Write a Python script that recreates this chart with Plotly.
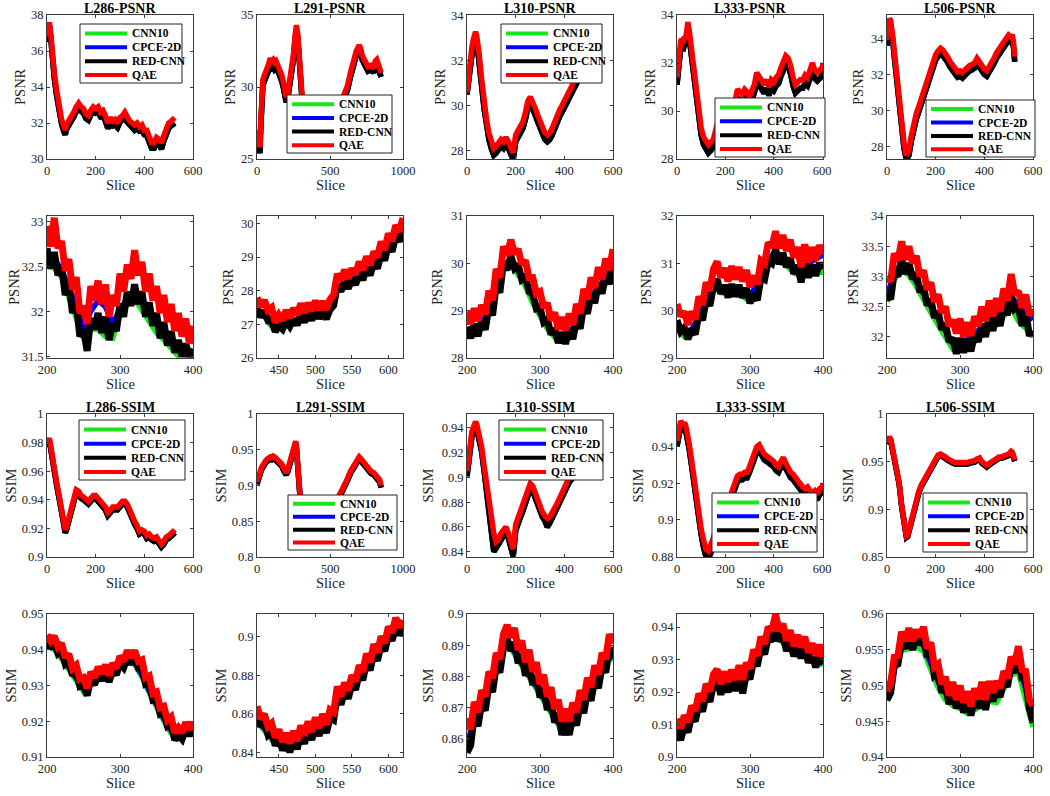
import plotly.graph_objects as go

# ---------------- data: overview panels (rows 1 and 3) ----------------
psnr_l286_x = [0, 5, 10, 15, 20, 30, 40, 50, 60, 70, 75, *range(80, 521, 10), 525]
psnr_l286_qae = [36.8, 37.3, 37.6, 37.0, 36.0, 34.8, 33.8, 32.9, 32.2, 31.8, 31.6, 31.9, 32.1, 32.4, 32.6, 32.9,
                 33.1, 32.9, 32.8, 32.5, 32.4, 32.7, 32.9, 32.8, 32.9, 32.6, 32.7, 32.4, 32.0, 32.3, 32.1, 32.2,
                 32.0, 32.3, 32.4, 32.6, 32.3, 32.1, 32.0, 31.9, 32.0, 31.8, 31.9, 31.6, 31.6, 31.2, 30.9, 30.9,
                 31.2, 31.1, 30.9, 31.3, 31.7, 32.0, 32.1, 32.2, 32.3]
psnr_l286_redcnn = [36.5, 37.0, 37.4, 36.8, 35.7, 34.5, 33.5, 32.65, 31.95, 31.5, 31.35, 31.65, 31.85, 32.15, 32.35,
                    32.65, 32.85, 32.65, 32.55, 32.25, 32.15, 32.45, 32.65, 32.55, 32.6, 32.35, 32.4, 32.1, 31.7,
                    32.0, 31.85, 31.9, 31.75, 32.05, 32.15, 32.3, 32.05, 31.85, 31.75, 31.6, 31.7, 31.55, 31.6,
                    31.35, 31.3, 30.95, 30.6, 30.6, 30.9, 30.85, 30.55, 31.0, 31.4, 31.7, 31.85, 31.95, 32.0]

psnr_l291_x = [0, 5, 10, 15, 20, 25, 30, *range(40, 321, 10), 340, 360, 380, 400, 420, 445, 470, 500, 520,
               530, 550, 570, 590, 600, 610, 620, 640, 660, 680, 700, 710, 720, 740, 760, 780, 800, 810, 820,
               830, 840, 850]
psnr_l291_qae = [27.0, 26.2, 25.9, 26.5, 25.8, 27.5, 29.0,
                 30.5, 30.8, 31.0, 31.3, 31.6, 32.0, 31.8, 31.9, 31.7, 31.8, 31.6, 31.4, 31.0, 30.8, 30.4, 29.8,
                 29.3, 29.5, 30.1, 30.8, 31.5, 32.3, 33.5, 34.3, 33.6, 32.0, 30.2, 29.2, 28.6,
                 28.2, 28.0, 27.9, 27.8, 27.7, 27.2, 27.4, 27.6, 27.7,
                 28.4, 28.6, 28.9, 29.3, 29.6, 29.9, 30.1,
                 31.0, 31.8, 32.5, 32.9, 32.7, 32.2, 31.7, 31.4, 31.5, 31.3, 31.8, 31.9, 31.6, 31.2, 31.0]
psnr_l291_redcnn = [26.6, 25.8, 25.5, 26.0, 25.4, 27.0, 28.6,
                    30.1, 30.4, 30.6, 30.9, 31.1, 31.4, 31.3, 31.4, 31.2, 31.3, 31.2, 31.0, 30.6, 30.4, 30.0,
                    29.4, 28.95, 29.15, 29.75, 30.45, 31.15, 31.95, 33.15, 33.95, 33.3, 31.7, 29.9, 28.9, 28.3,
                    27.9, 27.7, 27.6, 27.5, 27.4, 26.9, 27.1, 27.3, 27.4,
                    28.1, 28.3, 28.6, 29.0, 29.3, 29.6, 29.8,
                    30.7, 31.5, 32.2, 32.6, 32.4, 31.9, 31.4, 31.1, 31.2, 31.0, 31.5, 31.6, 31.3, 30.9, 30.7]

psnr_l310_x = [*range(0, 51, 5), *range(60, 401, 10), 420, 440, 460, 480, 500, 520]
psnr_l310_qae = [30.6, 31.2, 31.8, 32.2, 32.6, 32.9, 33.2, 33.3, 33.1, 32.8, 32.3,
                 31.2, 30.2, 29.4, 28.8, 28.4, 28.1, 28.2, 28.4, 28.5, 28.4, 28.6, 28.4, 28.1, 27.9, 28.7,
                 28.9, 29.0, 29.3, 29.7, 30.2, 30.4, 30.2, 29.9, 29.6, 29.3, 29.0, 28.8, 28.7, 28.8, 29.0,
                 29.3, 29.6, 29.8, 30.0, 30.2,
                 30.6, 31.0, 31.5, 32.0, 32.3, 32.6]
psnr_l310_redcnn = [30.5, 31.0, 31.6, 32.0, 32.4, 32.7, 33.0, 33.1, 32.9, 32.5, 32.0,
                    30.9, 29.9, 29.1, 28.5, 28.1, 27.8, 27.9, 28.1, 28.2, 28.1, 28.3, 28.1, 27.8, 27.6, 28.4,
                    28.6, 28.7, 29.0, 29.4, 29.9, 30.1, 29.9, 29.6, 29.3, 29.0, 28.7, 28.5, 28.4, 28.5, 28.7,
                    29.0, 29.3, 29.5, 29.7, 29.9,
                    30.3, 30.7, 31.2, 31.7, 32.0, 32.3]

psnr_l333_x = [*range(0, 61, 5), *range(70, 181, 10), 200, 220, 240, *range(250, 601, 10), 605]
psnr_l333_qae = [31.4, 32.0, 32.6, 32.9, 33.0, 32.8, 33.1, 33.0, 33.3, 33.7, 33.4, 33.0, 32.5,
                 31.6, 30.7, 29.9, 29.3, 28.9, 28.7, 28.6, 28.7, 28.8, 29.2, 29.6, 29.6,
                 29.8, 30.0, 30.4,
                 30.9, 30.8, 30.7, 30.9, 30.8, 30.6, 30.8, 31.1, 31.6, 31.4, 31.3, 31.1, 31.3, 31.0, 31.3,
                 31.2, 31.4, 31.5, 31.8, 32.1, 32.3, 32.2, 31.9, 31.4, 31.1, 31.2, 31.3, 31.3, 31.5, 31.4,
                 31.7, 32.0, 31.7, 31.6, 31.7, 31.8,
                 32.0]
psnr_l333_redcnn = [31.1, 31.7, 32.3, 32.6, 32.7, 32.5, 32.8, 32.7, 33.0, 33.4, 33.1, 32.7, 32.2,
                    31.3, 30.4, 29.6, 29.0, 28.6, 28.35, 28.25, 28.35, 28.5, 28.9, 29.3, 29.3,
                    29.5, 29.7, 30.1,
                    30.55, 30.45, 30.35, 30.55, 30.45, 30.25, 30.45, 30.75, 31.25, 31.05, 30.95, 30.75,
                    30.95, 30.65, 30.95, 30.85, 31.05, 31.15, 31.45, 31.75, 31.95, 31.85, 31.55, 31.05,
                    30.75, 30.85, 30.95, 30.95, 31.15, 31.05, 31.35, 31.65, 31.35, 31.25, 31.35, 31.45,
                    31.65]

psnr_l506_x = [0, 5, 10, 15, 20, 25, 30, *range(40, 511, 10), 515, 520, 525]
psnr_l506_qae = [33.9, 34.6, 35.1, 35.0, 34.6, 34.0, 33.3,
                 32.0, 30.6, 29.3, 28.2, 27.5, 27.8, 28.6, 29.3, 29.8, 30.2, 30.6, 31.0, 31.5, 32.0, 32.4,
                 32.8, 33.1, 33.3, 33.45, 33.35, 33.2, 32.95, 32.7, 32.55, 32.35, 32.15, 32.2, 32.1, 32.25,
                 32.4, 32.5, 32.55, 32.65, 32.9, 32.65, 32.55, 32.3, 32.2, 32.4, 32.6, 32.9, 33.2, 33.4,
                 33.6, 33.8, 34.0, 34.2, 34.1,
                 34.2, 33.8, 33.0]
psnr_l506_redcnn = [33.6, 34.3, 34.8, 34.7, 34.3, 33.7, 33.0,
                    31.7, 30.3, 29.0, 27.9, 27.25, 27.5, 28.3, 29.0, 29.5, 29.9, 30.3, 30.7, 31.2, 31.7,
                    32.1, 32.5, 32.8, 33.0, 33.15, 33.05, 32.9, 32.65, 32.4, 32.25, 32.05, 31.85, 31.9,
                    31.8, 31.95, 32.1, 32.2, 32.25, 32.35, 32.6, 32.35, 32.25, 32.0, 31.9, 32.1, 32.3, 32.6,
                    32.9, 33.1, 33.3, 33.5, 33.7, 33.9, 33.8,
                    33.9, 33.5, 32.7]

ssim_l286_x = [0, 5, 10, 15, 20, 30, 40, 50, 60, 70, 75, *range(80, 521, 10), 525]
ssim_l286_qae = [0.979, 0.982, 0.983, 0.978, 0.972, 0.962, 0.952, 0.943, 0.932, 0.922, 0.919, 0.921, 0.927,
                 0.935, 0.942, 0.947, 0.946, 0.943, 0.942, 0.940, 0.939, 0.941, 0.943, 0.943, 0.941, 0.939,
                 0.937, 0.935, 0.931, 0.933, 0.935, 0.935, 0.935, 0.937, 0.939, 0.939, 0.937, 0.933, 0.928,
                 0.925, 0.922, 0.918, 0.919, 0.918, 0.915, 0.916, 0.914, 0.913, 0.914, 0.911, 0.909, 0.911,
                 0.914, 0.915, 0.916, 0.918, 0.919]
ssim_l286_redcnn = [0.977, 0.980, 0.981, 0.976, 0.970, 0.960, 0.950, 0.941, 0.930, 0.920, 0.917, 0.919,
                    0.925, 0.933, 0.940, 0.945, 0.944, 0.941, 0.940, 0.938, 0.937, 0.939, 0.941, 0.941,
                    0.939, 0.937, 0.935, 0.933, 0.929, 0.931, 0.933, 0.933, 0.933, 0.935, 0.937, 0.937,
                    0.935, 0.931, 0.926, 0.923, 0.920, 0.916, 0.917, 0.916, 0.913, 0.914, 0.912, 0.911,
                    0.912, 0.909, 0.907, 0.909, 0.912, 0.913, 0.914, 0.916, 0.917]

ssim_l291_x = [0, 5, 10, 15, 20, *range(30, 261, 10), 265, 270, 280, 290, 300, 320, 350, 400, 450, 500, 540,
               560, 580, 600, 620, 640, 660, 680, 700, 710, 720, 740, 760, 780, 800, 820, 840, 850]
ssim_l291_qae = [0.905, 0.91, 0.912, 0.915, 0.918,
                 0.925, 0.93, 0.932, 0.935, 0.937, 0.94, 0.94, 0.939, 0.941, 0.94, 0.938, 0.936, 0.934, 0.932,
                 0.93, 0.925, 0.92, 0.918, 0.922, 0.93, 0.935, 0.94, 0.948, 0.958,
                 0.962, 0.955, 0.935, 0.9, 0.87, 0.86, 0.855, 0.855, 0.85, 0.855, 0.865,
                 0.885, 0.893, 0.9, 0.91, 0.92, 0.928, 0.935, 0.94,
                 0.938, 0.935, 0.93, 0.925, 0.92, 0.918, 0.914, 0.908, 0.9]
ssim_l291_redcnn = [0.902, 0.907, 0.909, 0.912, 0.915,
                    0.922, 0.927, 0.929, 0.932, 0.934, 0.937, 0.937, 0.936, 0.938, 0.937, 0.935, 0.933, 0.931,
                    0.929, 0.927, 0.922, 0.917, 0.915, 0.919, 0.927, 0.932, 0.937, 0.945, 0.955,
                    0.959, 0.952, 0.932, 0.897, 0.867, 0.857, 0.852, 0.852, 0.847, 0.852, 0.862,
                    0.882, 0.89, 0.897, 0.907, 0.917, 0.925, 0.932, 0.937,
                    0.935, 0.932, 0.927, 0.922, 0.917, 0.915, 0.911, 0.905, 0.897]

ssim_l310_x = [*range(0, 41, 5), *range(50, 421, 10), 440, 460, 480, 500, 520]
ssim_l310_qae = [0.905, 0.915, 0.925, 0.932, 0.937, 0.94, 0.943, 0.945, 0.943,
                 0.935, 0.925, 0.91, 0.895, 0.88, 0.865, 0.855, 0.848, 0.85, 0.855, 0.857, 0.86, 0.855, 0.85,
                 0.842, 0.862, 0.868, 0.872, 0.877, 0.883, 0.89, 0.895, 0.893, 0.887, 0.882, 0.876, 0.872,
                 0.869, 0.867, 0.868, 0.871, 0.875, 0.879, 0.883, 0.887, 0.891, 0.895, 0.9,
                 0.905, 0.91, 0.915, 0.918, 0.92]
ssim_l310_redcnn = [0.901, 0.911, 0.921, 0.928, 0.933, 0.936, 0.939, 0.941, 0.939,
                    0.931, 0.921, 0.906, 0.891, 0.876, 0.861, 0.84, 0.843, 0.846, 0.851, 0.853, 0.856, 0.851,
                    0.845, 0.836, 0.857, 0.864, 0.868, 0.873, 0.879, 0.886, 0.891, 0.889, 0.883, 0.878, 0.872,
                    0.868, 0.865, 0.86, 0.863, 0.867, 0.871, 0.875, 0.879, 0.883, 0.887, 0.891, 0.896,
                    0.901, 0.906, 0.911, 0.914, 0.916]

ssim_l333_x = [*range(0, 51, 5), *range(60, 601, 10), 605]
ssim_l333_qae = [0.943, 0.948, 0.952, 0.954, 0.953, 0.951, 0.953, 0.952, 0.949, 0.946, 0.942,
                 0.933, 0.922, 0.912, 0.903, 0.895, 0.889, 0.884, 0.883, 0.886, 0.89, 0.895, 0.9, 0.905,
                 0.908, 0.91, 0.911, 0.913, 0.917, 0.92, 0.924, 0.925, 0.925, 0.926, 0.926, 0.929, 0.933,
                 0.936, 0.94, 0.941, 0.938, 0.936, 0.935, 0.934, 0.933, 0.932, 0.93, 0.929, 0.932, 0.934,
                 0.931, 0.928, 0.926, 0.925, 0.923, 0.921, 0.92, 0.918, 0.917, 0.918, 0.916, 0.915, 0.916,
                 0.914, 0.917, 0.918,
                 0.92]
ssim_l333_redcnn = [0.940, 0.945, 0.949, 0.951, 0.950, 0.948, 0.950, 0.949, 0.946, 0.943, 0.939,
                    0.930, 0.919, 0.909, 0.900, 0.892, 0.885, 0.880, 0.879, 0.882, 0.887, 0.892, 0.897,
                    0.902, 0.905, 0.907, 0.908, 0.910, 0.914, 0.917, 0.921, 0.922, 0.922, 0.923, 0.923,
                    0.926, 0.930, 0.933, 0.937, 0.938, 0.935, 0.933, 0.932, 0.931, 0.930, 0.929, 0.927,
                    0.926, 0.929, 0.931, 0.928, 0.925, 0.923, 0.922, 0.920, 0.918, 0.917, 0.915, 0.914,
                    0.915, 0.913, 0.912, 0.913, 0.911, 0.914, 0.915,
                    0.917]

ssim_l506_x = [0, 5, 10, 15, 20, 30, 40, 50, 60, 70, 75, 80, 85, 90, *range(100, 511, 10), 515, 520, 525]
ssim_l506_qae = [0.970, 0.974, 0.976, 0.974, 0.968, 0.958, 0.945, 0.928, 0.905, 0.885, 0.875, 0.872, 0.873,
                 0.878, 0.89, 0.902, 0.912, 0.918, 0.925, 0.93, 0.935, 0.94, 0.945, 0.95, 0.954, 0.957, 0.958,
                 0.957, 0.955, 0.953, 0.951, 0.95, 0.949, 0.949, 0.949, 0.948, 0.948, 0.949, 0.95, 0.95,
                 0.951, 0.953, 0.954, 0.95, 0.947, 0.946, 0.948, 0.95, 0.951, 0.953, 0.955, 0.955, 0.956,
                 0.957, 0.958, 0.961, 0.96, 0.956, 0.952]
ssim_l506_redcnn = [0.9685, 0.9725, 0.9745, 0.9725, 0.9665, 0.9565, 0.9435, 0.9265, 0.9035, 0.8835, 0.8735,
                    0.8705, 0.8715, 0.8765, 0.8885, 0.9005, 0.9105, 0.9165, 0.9235, 0.9285, 0.9335, 0.9385,
                    0.9435, 0.9485, 0.9525, 0.9555, 0.9565, 0.9555, 0.9535, 0.9515, 0.9495, 0.9485, 0.9475,
                    0.9475, 0.9475, 0.9465, 0.9465, 0.9475, 0.9485, 0.9485, 0.9495, 0.9515, 0.9525, 0.9485,
                    0.9455, 0.9445, 0.9465, 0.9485, 0.9495, 0.9515, 0.9535, 0.9535, 0.9545, 0.9555, 0.9565,
                    0.9595, 0.9585, 0.9545, 0.9505]

# ---------------- data: zoomed panels (rows 2 and 4) ----------------
slices_200_400 = list(range(200, 401, 5))
slices_200_400_coarse = list(range(200, 401, 10))
slices_420_620 = list(range(420, 621, 5))
slices_420_620_coarse = list(range(420, 621, 10))

zpsnr_l286_qae = [32.95, 32.72, 33.04, 32.70, 32.78, 32.45, 32.58, 32.24, 32.38, 31.98,
                  32.06, 31.86, 32.28, 32.12, 32.34, 32.08, 32.30, 31.94, 32.18, 32.06,
                  32.42, 32.22, 32.52, 32.36, 32.68, 32.40, 32.55, 32.22, 32.42, 32.12,
                  32.28, 31.98, 32.18, 31.88, 32.08, 31.78, 31.98, 31.72, 31.92, 31.64,
                  31.84]
zpsnr_l286_redcnn = [32.70, 32.48, 32.66, 32.40, 32.50, 32.18, 32.30, 31.98, 32.10, 31.72,
                     31.80, 31.56, 31.92, 31.80, 31.98, 31.76, 31.94, 31.68, 31.86, 31.78,
                     32.08, 31.94, 32.22, 32.06, 32.30, 32.08, 32.22, 31.94, 32.10, 31.84,
                     31.98, 31.70, 31.88, 31.62, 31.78, 31.54, 31.68, 31.50, 31.64, 31.50,
                     31.58]
zpsnr_l286_cpce = [32.6, 32.58, 32.46, 32.26, 32.06, 31.8, 32.0, 32.12, 32.05, 31.86, 32.02,
                   32.14, 32.2, 32.1, 31.98, 31.86, 31.76, 31.68, 31.6, 31.58, 31.55]
zpsnr_l286_cnn10 = [32.5, 32.48, 32.38, 32.16, 31.96, 31.7, 31.8, 31.8, 31.72, 31.7, 31.95,
                    32.08, 32.14, 32.02, 31.9, 31.76, 31.68, 31.58, 31.5, 31.5, 31.48]

zpsnr_l291_qae = [27.80, 27.52, 27.72, 27.42, 27.50, 27.06, 27.28, 27.12, 27.42, 27.20,
                  27.48, 27.28, 27.62, 27.34, 27.64, 27.40, 27.70, 27.44, 27.68, 27.44,
                  27.74, 27.88, 28.50, 28.30, 28.62, 28.36, 28.66, 28.48, 28.86, 28.62,
                  29.02, 28.76, 29.16, 29.00, 29.46, 29.22, 29.70, 29.48, 29.94, 29.76,
                  30.16]
zpsnr_l291_redcnn = [27.48, 27.22, 27.40, 27.12, 27.16, 26.78, 26.96, 26.86, 27.10, 26.94,
                     27.16, 26.98, 27.30, 27.06, 27.34, 27.12, 27.40, 27.18, 27.38, 27.16,
                     27.44, 27.56, 28.16, 27.98, 28.30, 28.06, 28.36, 28.18, 28.52, 28.32,
                     28.70, 28.46, 28.84, 28.66, 29.12, 28.90, 29.38, 29.16, 29.62, 29.46,
                     29.86]
zpsnr_l291_cpce = [27.38, 27.29, 27.0, 26.94, 27.05, 27.1, 27.21, 27.26, 27.32, 27.3, 27.53,
                   28.1, 28.21, 28.3, 28.45, 28.61, 28.78, 29.04, 29.3, 29.57, 29.86]
zpsnr_l291_cnn10 = [27.32, 27.23, 26.94, 26.88, 26.99, 27.04, 27.15, 27.2, 27.26, 27.24, 27.47,
                    28.04, 28.15, 28.24, 28.39, 28.55, 28.72, 28.98, 29.24, 29.51, 29.82]

zpsnr_l310_qae = [28.98, 28.72, 29.05, 28.78, 29.12, 28.92, 29.42, 29.22, 29.88, 29.70,
                  30.36, 30.16, 30.50, 30.20, 30.30, 29.98, 30.06, 29.70, 29.70, 29.36,
                  29.40, 29.06, 29.16, 28.80, 28.96, 28.60, 28.86, 28.58, 28.94, 28.70,
                  29.14, 28.94, 29.46, 29.24, 29.70, 29.48, 29.92, 29.66, 30.10, 29.86,
                  30.30]
zpsnr_l310_redcnn = [28.66, 28.42, 28.72, 28.46, 28.78, 28.60, 29.08, 28.90, 29.54, 29.38,
                     30.02, 29.86, 30.16, 29.90, 29.98, 29.66, 29.72, 29.40, 29.36, 29.04,
                     29.06, 28.76, 28.82, 28.50, 28.62, 28.32, 28.54, 28.30, 28.60, 28.40,
                     28.80, 28.62, 29.12, 28.94, 29.36, 29.16, 29.58, 29.36, 29.76, 29.56,
                     29.98]
zpsnr_l310_cpce = [28.58, 28.62, 28.72, 29.02, 29.5, 29.98, 30.06, 29.86, 29.62, 29.3, 28.95,
                   28.7, 28.5, 28.45, 28.53, 28.74, 29.06, 29.3, 29.5, 29.7, 30.0]
zpsnr_l310_cnn10 = [28.5, 28.56, 28.66, 28.96, 29.42, 29.9, 30.0, 29.78, 29.52, 29.16, 28.88,
                    28.62, 28.44, 28.38, 28.46, 28.68, 29.0, 29.22, 29.44, 29.62, 29.94]

zpsnr_l333_qae = [30.14, 29.88, 29.98, 29.70, 29.98, 29.82, 30.30, 30.12, 30.60, 30.42,
                  30.88, 31.04, 30.70, 30.90, 30.62, 30.94, 30.66, 30.92, 30.62, 30.86,
                  30.50, 30.74, 30.56, 31.06, 31.00, 31.44, 31.34, 31.68, 31.32, 31.60,
                  31.26, 31.50, 31.12, 31.34, 30.92, 31.40, 31.02, 31.34, 31.06, 31.38,
                  31.20]
zpsnr_l333_redcnn = [29.80, 29.56, 29.64, 29.40, 29.62, 29.50, 29.94, 29.80, 30.24, 30.10,
                     30.52, 30.66, 30.36, 30.54, 30.28, 30.56, 30.30, 30.54, 30.28, 30.48,
                     30.16, 30.36, 30.22, 30.70, 30.66, 31.06, 31.00, 31.30, 30.98, 31.22,
                     30.92, 31.12, 30.78, 30.96, 30.60, 31.02, 30.70, 30.96, 30.74, 31.00,
                     30.88]
zpsnr_l333_cpce = [29.7, 29.54, 29.58, 29.9, 30.2, 30.6, 30.48, 30.44, 30.44, 30.4, 30.3,
                   30.58, 30.88, 31.16, 31.12, 31.04, 30.9, 30.86, 31.0, 31.1, 31.18]
zpsnr_l333_cnn10 = [29.6, 29.45, 29.5, 29.8, 30.1, 30.5, 30.38, 30.36, 30.35, 30.3, 30.2,
                    30.4, 30.8, 31.08, 31.04, 30.96, 30.8, 30.74, 30.76, 30.8, 30.82]

zpsnr_l506_qae = [32.98, 32.92, 33.38, 33.26, 33.58, 33.28, 33.50, 33.22, 33.34, 33.00,
                  33.10, 32.78, 32.90, 32.58, 32.70, 32.40, 32.50, 32.18, 32.28, 32.06,
                  32.30, 32.00, 32.24, 32.02, 32.34, 32.18, 32.50, 32.26, 32.60, 32.34,
                  32.64, 32.42, 32.80, 32.60, 33.04, 32.70, 32.76, 32.48, 32.70, 32.36,
                  32.46]
zpsnr_l506_redcnn = [32.70, 32.62, 33.08, 33.00, 33.30, 33.04, 33.22, 32.96, 33.06, 32.74,
                     32.84, 32.52, 32.62, 32.32, 32.42, 32.12, 32.22, 31.92, 31.98, 31.72,
                     31.98, 31.74, 31.96, 31.76, 32.06, 31.92, 32.22, 32.00, 32.32, 32.10,
                     32.38, 32.18, 32.52, 32.36, 32.70, 32.46, 32.50, 32.18, 32.42, 32.02,
                     32.10]
zpsnr_l506_cpce = [32.68, 33.06, 33.2, 33.1, 32.92, 32.7, 32.5, 32.3, 32.1, 31.9, 31.92,
                   31.95, 32.06, 32.14, 32.24, 32.32, 32.5, 32.66, 32.52, 32.42, 32.28]
zpsnr_l506_cnn10 = [32.58, 32.96, 33.1, 33.02, 32.84, 32.6, 32.4, 32.2, 32.0, 31.8, 31.8,
                    31.8, 31.92, 32.04, 32.14, 32.2, 32.36, 32.5, 32.26, 32.14, 32.02]

zssim_l286_qae = [0.9442, 0.9424, 0.9438, 0.9408, 0.9418, 0.9378, 0.9388, 0.9348, 0.9357, 0.9318,
                  0.9322, 0.9293, 0.9338, 0.9322, 0.9352, 0.9333, 0.9358, 0.9328, 0.9362, 0.9348,
                  0.9382, 0.9368, 0.9398, 0.9378, 0.9398, 0.9368, 0.9372, 0.9322, 0.9327, 0.9278,
                  0.9282, 0.9238, 0.9242, 0.9203, 0.9212, 0.9168, 0.9182, 0.9168, 0.9197, 0.9178,
                  0.9198]
zssim_l286_redcnn = [0.9424, 0.9404, 0.9420, 0.9390, 0.9398, 0.9360, 0.9368, 0.9328, 0.9338, 0.9298,
                     0.9302, 0.9272, 0.9318, 0.9302, 0.9332, 0.9314, 0.9338, 0.9310, 0.9342, 0.9330,
                     0.9362, 0.9350, 0.9378, 0.9360, 0.9378, 0.9350, 0.9352, 0.9304, 0.9308, 0.9260,
                     0.9264, 0.9220, 0.9224, 0.9186, 0.9192, 0.9148, 0.9162, 0.9150, 0.9178, 0.9160,
                     0.9178]
zssim_l286_cpce = [0.9416, 0.9407, 0.9381, 0.935, 0.932, 0.929, 0.9312, 0.9325, 0.9326, 0.9338,
                   0.9358, 0.9371, 0.9366, 0.933, 0.9286, 0.9244, 0.9208, 0.9175, 0.9168, 0.9182,
                   0.919]
zssim_l286_cnn10 = [0.941, 0.9401, 0.9375, 0.9344, 0.9314, 0.9283, 0.9306, 0.9319, 0.932, 0.9332,
                    0.9352, 0.9365, 0.936, 0.9324, 0.928, 0.9238, 0.9201, 0.9166, 0.9152, 0.9165,
                    0.9174]

zssim_l291_qae = [0.8640, 0.8575, 0.8600, 0.8535, 0.8552, 0.8478, 0.8520, 0.8455, 0.8500, 0.8448,
                  0.8512, 0.8460, 0.8540, 0.8488, 0.8562, 0.8508, 0.8582, 0.8528, 0.8600, 0.8545,
                  0.8622, 0.8610, 0.8742, 0.8690, 0.8762, 0.8722, 0.8800, 0.8768, 0.8852, 0.8818,
                  0.8912, 0.8868, 0.8962, 0.8918, 0.9002, 0.8968, 0.9052, 0.9022, 0.9098, 0.9050,
                  0.9085]
zssim_l291_redcnn = [0.8598, 0.8535, 0.8558, 0.8492, 0.8510, 0.8436, 0.8478, 0.8412, 0.8456, 0.8402,
                     0.8468, 0.8418, 0.8496, 0.8446, 0.8518, 0.8466, 0.8540, 0.8486, 0.8556, 0.8502,
                     0.8578, 0.8568, 0.8700, 0.8648, 0.8718, 0.8680, 0.8756, 0.8726, 0.8808, 0.8776,
                     0.8868, 0.8826, 0.8918, 0.8876, 0.8958, 0.8926, 0.9008, 0.8980, 0.9054, 0.9010,
                     0.9044]
zssim_l291_cpce = [0.8572, 0.853, 0.8478, 0.845, 0.8434, 0.8448, 0.8476, 0.8497, 0.8518, 0.8534,
                   0.8578, 0.8679, 0.8704, 0.8746, 0.8797, 0.8852, 0.8902, 0.8947, 0.8999, 0.9037, 0.9049]
zssim_l291_cnn10 = [0.8562, 0.852, 0.8468, 0.844, 0.8424, 0.8438, 0.8466, 0.8487, 0.8508, 0.8524,
                    0.8568, 0.8669, 0.8694, 0.8736, 0.8787, 0.8842, 0.8892, 0.8937, 0.8989, 0.9027, 0.9039]

zssim_l310_qae = [0.8665, 0.8630, 0.8718, 0.8685, 0.8755, 0.8735, 0.8815, 0.8795, 0.8875, 0.8855,
                  0.8935, 0.8965, 0.8925, 0.8955, 0.8885, 0.8915, 0.8845, 0.8885, 0.8815, 0.8845,
                  0.8775, 0.8805, 0.8735, 0.8765, 0.8695, 0.8725, 0.8655, 0.8695, 0.8655, 0.8715,
                  0.8685, 0.8755, 0.8725, 0.8795, 0.8765, 0.8835, 0.8805, 0.8875, 0.8855, 0.8935,
                  0.8905]
zssim_l310_redcnn = [0.8555, 0.8578, 0.8675, 0.8640, 0.8712, 0.8690, 0.8772, 0.8750, 0.8832, 0.8812,
                     0.8892, 0.8920, 0.8882, 0.8910, 0.8842, 0.8872, 0.8802, 0.8842, 0.8772, 0.8802,
                     0.8732, 0.8762, 0.8692, 0.8722, 0.8652, 0.8682, 0.8612, 0.8650, 0.8612, 0.8672,
                     0.8642, 0.8712, 0.8682, 0.8752, 0.8722, 0.8792, 0.8762, 0.8832, 0.8812, 0.8892,
                     0.8862]
zssim_l310_cpce = [0.858, 0.8665, 0.8712, 0.8764, 0.8824, 0.8908, 0.8898, 0.8859, 0.8824, 0.8789,
                   0.8749, 0.8709, 0.8669, 0.8633, 0.8644, 0.8679, 0.8719, 0.8759, 0.8799, 0.8854, 0.8864]
zssim_l310_cnn10 = [0.8562, 0.8653, 0.8696, 0.8756, 0.8817, 0.8901, 0.8891, 0.8852, 0.8817, 0.8782,
                    0.8742, 0.8702, 0.8662, 0.8626, 0.8637, 0.8672, 0.8712, 0.8752, 0.8792, 0.8847, 0.8857]

zssim_l333_qae = [0.9118, 0.9088, 0.9128, 0.9108, 0.9158, 0.9142, 0.9195, 0.9172, 0.9225, 0.9202,
                  0.9255, 0.9270, 0.9225, 0.9262, 0.9232, 0.9268, 0.9238, 0.9282, 0.9238, 0.9290,
                  0.9272, 0.9330, 0.9312, 0.9370, 0.9348, 0.9400, 0.9388, 0.9438, 0.9388, 0.9410,
                  0.9358, 0.9390, 0.9342, 0.9375, 0.9338, 0.9370, 0.9322, 0.9350, 0.9312, 0.9345,
                  0.9308]
zssim_l333_redcnn = [0.9088, 0.9052, 0.9096, 0.9076, 0.9126, 0.9110, 0.9164, 0.9140, 0.9194, 0.9170,
                     0.9224, 0.9238, 0.9192, 0.9230, 0.9200, 0.9236, 0.9204, 0.9250, 0.9196, 0.9256,
                     0.9240, 0.9298, 0.9280, 0.9338, 0.9316, 0.9368, 0.9356, 0.9406, 0.9356, 0.9378,
                     0.9326, 0.9358, 0.9310, 0.9342, 0.9304, 0.9336, 0.9290, 0.9318, 0.9276, 0.9312,
                     0.9286]
zssim_l333_cpce = [0.9073, 0.9089, 0.9121, 0.9155, 0.9185, 0.9234, 0.9214, 0.9221, 0.923, 0.9229,
                   0.9272, 0.9312, 0.9345, 0.9384, 0.937, 0.9345, 0.9329, 0.9323, 0.9307, 0.9297, 0.9289]
zssim_l333_cnn10 = [0.9067, 0.9083, 0.9115, 0.9149, 0.9179, 0.9228, 0.9208, 0.9215, 0.9224, 0.9223,
                    0.9266, 0.9306, 0.9339, 0.9378, 0.9364, 0.9339, 0.9323, 0.9317, 0.9301, 0.9291, 0.9283]

zssim_l506_qae = [0.9492, 0.9502, 0.9540, 0.9542, 0.9575, 0.9562, 0.9580, 0.9562, 0.9578, 0.9568,
                  0.9582, 0.9552, 0.9560, 0.9526, 0.9530, 0.9502, 0.9512, 0.9486, 0.9505, 0.9480,
                  0.9500, 0.9476, 0.9492, 0.9471, 0.9496, 0.9481, 0.9505, 0.9480, 0.9506, 0.9490,
                  0.9506, 0.9496, 0.9520, 0.9510, 0.9540, 0.9530, 0.9555, 0.9522, 0.9520, 0.9480,
                  0.9472]
zssim_l506_redcnn = [0.9480, 0.9490, 0.9528, 0.9530, 0.9562, 0.9552, 0.9568, 0.9550, 0.9566, 0.9558,
                     0.9570, 0.9540, 0.9548, 0.9514, 0.9518, 0.9490, 0.9500, 0.9474, 0.9492, 0.9468,
                     0.9488, 0.9462, 0.9480, 0.9458, 0.9484, 0.9468, 0.9492, 0.9466, 0.9494, 0.9478,
                     0.9494, 0.9484, 0.9508, 0.9498, 0.9528, 0.9518, 0.9542, 0.9510, 0.9508, 0.9468,
                     0.9448]
zssim_l506_cpce = [0.9486, 0.953, 0.9558, 0.956, 0.9563, 0.9556, 0.9533, 0.9506, 0.949, 0.9483, 0.9478,
                   0.9472, 0.9478, 0.9481, 0.9488, 0.9491, 0.9506, 0.9527, 0.9532, 0.9495, 0.9458]
zssim_l506_cnn10 = [0.9478, 0.9522, 0.9549, 0.9552, 0.9554, 0.9548, 0.9524, 0.9497, 0.948, 0.9472, 0.9468,
                    0.9461, 0.9466, 0.9472, 0.9478, 0.9476, 0.9494, 0.9515, 0.9518, 0.948, 0.9442]

# ---------------- layout constants ----------------
W, H = 1050, 796
COL_L = [47, 257, 467, 677, 887]
COL_W = 146
ROW_T = [15, 216, 414, 614]
ROW_B = [159, 358, 557, 757]
SERIF = "Liberation Serif"
AX_COLOR = "#3a3a3a"
METHODS = ["CNN10", "CPCE-2D", "RED-CNN", "QAE"]
COLORS = {"CNN10": "#19e619", "CPCE-2D": "#0000ff", "RED-CNN": "#000000", "QAE": "#ff0000"}
YLAB_OFFSET = [27, 27, 27, 27, 29,
               33, 29, 30, 31, 34,
               37, 37, 40, 40, 40,
               37, 37, 40, 39, 42]


def ov(x, qae, red):
    return {"CNN10": (x, red), "CPCE-2D": (x, red), "RED-CNN": (x, red), "QAE": (x, qae)}


def zm(xf, xc, qae, red, cpce, cnn):
    return {"CNN10": (xc, cnn), "CPCE-2D": (xc, cpce), "RED-CNN": (xf, red), "QAE": (xf, qae)}


panels = [
    # row 1 : PSNR overview
    dict(title="L286-PSNR", ylab="PSNR", data=ov(psnr_l286_x, psnr_l286_qae, psnr_l286_redcnn),
         xr=[0, 600], xt=[0, 200, 400, 600], yr=[30, 38], yt=[30, 32, 34, 36, 38], leg=(80, 24, 182, 83)),
    dict(title="L291-PSNR", ylab="PSNR", data=ov(psnr_l291_x, psnr_l291_qae, psnr_l291_redcnn),
         xr=[0, 1000], xt=[0, 500, 1000], yr=[25, 35], yt=[25, 30, 35], leg=(287, 95, 392, 153)),
    dict(title="L310-PSNR", ylab="PSNR", data=ov(psnr_l310_x, psnr_l310_qae, psnr_l310_redcnn),
         xr=[0, 600], xt=[0, 200, 400, 600], yr=[27.63, 34.04], yt=[28, 30, 32, 34], leg=(501, 24, 602, 83)),
    dict(title="L333-PSNR", ylab="PSNR", data=ov(psnr_l333_x, psnr_l333_qae, psnr_l333_redcnn),
         xr=[0, 604], xt=[0, 200, 400, 600], yr=[28, 34], yt=[28, 30, 32, 34], leg=(715, 98, 825, 157)),
    dict(title="L506-PSNR", ylab="PSNR", data=ov(psnr_l506_x, psnr_l506_qae, psnr_l506_redcnn),
         xr=[0, 600], xt=[0, 200, 400, 600], yr=[27.3, 35.3], yt=[28, 30, 32, 34], leg=(926, 100, 1035, 157)),
    # row 2 : PSNR zoom
    dict(ylab="PSNR", data=zm(slices_200_400, slices_200_400_coarse, zpsnr_l286_qae, zpsnr_l286_redcnn,
                              zpsnr_l286_cpce, zpsnr_l286_cnn10),
         xr=[200, 400], xt=[200, 300, 400], yr=[31.48, 33.06], yt=[31.5, 32, 32.5, 33]),
    dict(ylab="PSNR", data=zm(slices_420_620, slices_420_620_coarse, zpsnr_l291_qae, zpsnr_l291_redcnn,
                              zpsnr_l291_cpce, zpsnr_l291_cnn10),
         xr=[420, 620], xt=[450, 500, 550, 600], yr=[26, 30.22], yt=[26, 27, 28, 29, 30]),
    dict(ylab="PSNR", data=zm(slices_200_400, slices_200_400_coarse, zpsnr_l310_qae, zpsnr_l310_redcnn,
                              zpsnr_l310_cpce, zpsnr_l310_cnn10),
         xr=[200, 400], xt=[200, 300, 400], yr=[28, 31], yt=[28, 29, 30, 31]),
    dict(ylab="PSNR", data=zm(slices_200_400, slices_200_400_coarse, zpsnr_l333_qae, zpsnr_l333_redcnn,
                              zpsnr_l333_cpce, zpsnr_l333_cnn10),
         xr=[200, 400], xt=[200, 300, 400], yr=[29, 32], yt=[29, 30, 31, 32]),
    dict(ylab="PSNR", data=zm(slices_200_400, slices_200_400_coarse, zpsnr_l506_qae, zpsnr_l506_redcnn,
                              zpsnr_l506_cpce, zpsnr_l506_cnn10),
         xr=[200, 400], xt=[200, 300, 400], yr=[31.65, 34], yt=[32, 32.5, 33, 33.5, 34]),
    # row 3 : SSIM overview
    dict(title="L286-SSIM", ylab="SSIM", data=ov(ssim_l286_x, ssim_l286_qae, ssim_l286_redcnn),
         xr=[0, 600], xt=[0, 200, 400, 600], yr=[0.9, 1.0], yt=[0.9, 0.92, 0.94, 0.96, 0.98, 1],
         leg=(79, 420, 185, 480)),
    dict(title="L291-SSIM", ylab="SSIM", data=ov(ssim_l291_x, ssim_l291_qae, ssim_l291_redcnn),
         xr=[0, 1000], xt=[0, 500, 1000], yr=[0.8, 1.0], yt=[0.8, 0.85, 0.9, 0.95, 1], leg=(288, 495, 397, 550)),
    dict(title="L310-SSIM", ylab="SSIM", data=ov(ssim_l310_x, ssim_l310_qae, ssim_l310_redcnn),
         xr=[0, 600], xt=[0, 200, 400, 600], yr=[0.8357, 0.9513], yt=[0.84, 0.86, 0.88, 0.9, 0.92, 0.94],
         leg=(499, 420, 603, 480)),
    dict(title="L333-SSIM", ylab="SSIM", data=ov(ssim_l333_x, ssim_l333_qae, ssim_l333_redcnn),
         xr=[0, 604], xt=[0, 200, 400, 600], yr=[0.8798, 0.9578], yt=[0.88, 0.9, 0.92, 0.94],
         leg=(712, 493, 817, 552)),
    dict(title="L506-SSIM", ylab="SSIM", data=ov(ssim_l506_x, ssim_l506_qae, ssim_l506_redcnn),
         xr=[0, 600], xt=[0, 200, 400, 600], yr=[0.85, 1.0], yt=[0.85, 0.9, 0.95, 1], leg=(923, 493, 1027, 552)),
    # row 4 : SSIM zoom
    dict(ylab="SSIM", data=zm(slices_200_400, slices_200_400_coarse, zssim_l286_qae, zssim_l286_redcnn,
                              zssim_l286_cpce, zssim_l286_cnn10),
         xr=[200, 400], xt=[200, 300, 400], yr=[0.91, 0.95], yt=[0.91, 0.92, 0.93, 0.94, 0.95]),
    dict(ylab="SSIM", data=zm(slices_420_620, slices_420_620_coarse, zssim_l291_qae, zssim_l291_redcnn,
                              zssim_l291_cpce, zssim_l291_cnn10),
         xr=[420, 620], xt=[450, 500, 550, 600], yr=[0.8377, 0.9118], yt=[0.84, 0.86, 0.88, 0.9]),
    dict(ylab="SSIM", data=zm(slices_200_400, slices_200_400_coarse, zssim_l310_qae, zssim_l310_redcnn,
                              zssim_l310_cpce, zssim_l310_cnn10),
         xr=[200, 400], xt=[200, 300, 400], yr=[0.8541, 0.9], yt=[0.86, 0.87, 0.88, 0.89, 0.9]),
    dict(ylab="SSIM", data=zm(slices_200_400, slices_200_400_coarse, zssim_l333_qae, zssim_l333_redcnn,
                              zssim_l333_cpce, zssim_l333_cnn10),
         xr=[200, 400], xt=[200, 300, 400], yr=[0.9, 0.944], yt=[0.9, 0.91, 0.92, 0.93, 0.94]),
    dict(ylab="SSIM", data=zm(slices_200_400, slices_200_400_coarse, zssim_l506_qae, zssim_l506_redcnn,
                              zssim_l506_cpce, zssim_l506_cnn10),
         xr=[200, 400], xt=[200, 300, 400], yr=[0.94, 0.96], yt=[0.94, 0.945, 0.95, 0.955, 0.96]),
]


def fmt(v):
    return ("%.4f" % v).rstrip("0").rstrip(".")


fig = go.Figure()
layout = dict(width=W, height=H, margin=dict(l=0, r=0, t=0, b=0), paper_bgcolor="white",
              plot_bgcolor="white", showlegend=False)
shapes, annots = [], []

for p, pan in enumerate(panels):
    r, c = divmod(p, 5)
    sfx = "" if p == 0 else str(p + 1)
    overview = r in (0, 2)
    for m in METHODS:
        xs, ys = pan["data"][m]
        assert len(xs) == len(ys), (p, m, len(xs), len(ys))
        if overview:
            w = 5.5
        else:
            w = 7 if m in ("QAE", "RED-CNN") else 5.5
        fig.add_trace(go.Scatter(x=xs, y=ys, mode="lines", name=m, showlegend=False,
                                 line=dict(color=COLORS[m], width=w),
                                 xaxis="x" + sfx, yaxis="y" + sfx, hoverinfo="skip"))
    l, t, b = COL_L[c], ROW_T[r], ROW_B[r]
    common = dict(showline=True, linecolor=AX_COLOR, linewidth=1, mirror="ticks", ticks="inside",
                  ticklen=3, tickcolor=AX_COLOR, showgrid=False, zeroline=False, automargin=False,
                  tickfont=dict(family=SERIF, size=12.5, color="#222"), fixedrange=True)
    layout["xaxis" + sfx] = dict(common, domain=[l / W, (l + COL_W) / W], anchor="y" + sfx,
                                 range=pan["xr"], tickvals=pan["xt"], ticktext=[fmt(v) for v in pan["xt"]])
    layout["yaxis" + sfx] = dict(common, domain=[1 - b / H, 1 - t / H], anchor="x" + sfx,
                                 range=pan["yr"], tickvals=pan["yt"], ticktext=[fmt(v) for v in pan["yt"]])
    # axis titles
    annots.append(dict(text="Slice", xref="paper", yref="paper", x=(l + COL_W / 2) / W, y=1 - (b + 26) / H,
                       xanchor="center", yanchor="middle", showarrow=False,
                       font=dict(family=SERIF, size=14.5, color="#222")))
    annots.append(dict(text=pan["ylab"], xref="paper", yref="paper", x=(l - YLAB_OFFSET[p]) / W,
                       y=1 - (t + b) / 2 / H, xanchor="center", yanchor="middle", textangle=-90,
                       showarrow=False, font=dict(family=SERIF, size=14.5, color="#222")))
    if "title" in pan:
        annots.append(dict(text="<b>%s</b>" % pan["title"], xref="paper", yref="paper",
                           x=(l + COL_W / 2) / W, y=1 - (t - 7) / H, xanchor="center", yanchor="middle",
                           showarrow=False, font=dict(family=SERIF, size=14, color="black")))
    if "leg" in pan:
        bx0, by0, bx1, by1 = pan["leg"]
        bh = by1 - by0
        shapes.append(dict(type="rect", xref="paper", yref="paper", x0=bx0 / W, x1=bx1 / W,
                           y0=1 - by1 / H, y1=1 - by0 / H, fillcolor="white",
                           line=dict(color="#222", width=1), layer="above"))
        for i, m in enumerate(METHODS):
            yy = by0 + bh * (0.16 + 0.235 * i)
            shapes.append(dict(type="line", xref="paper", yref="paper", x0=(bx0 + 5) / W, x1=(bx0 + 47) / W,
                               y0=1 - yy / H, y1=1 - yy / H, line=dict(color=COLORS[m], width=4),
                               layer="above"))
            annots.append(dict(text="<b>%s</b>" % m, xref="paper", yref="paper", x=(bx0 + 50) / W,
                               y=1 - yy / H, xanchor="left", yanchor="middle", showarrow=False,
                               font=dict(family=SERIF, size=11.5, color="black")))

layout["shapes"] = shapes
layout["annotations"] = annots
fig.update_layout(**layout)
fig.write_html("out.html", config={"displayModeBar": False, "staticPlot": True},
               post_script="document.body.style.margin='0px';")
